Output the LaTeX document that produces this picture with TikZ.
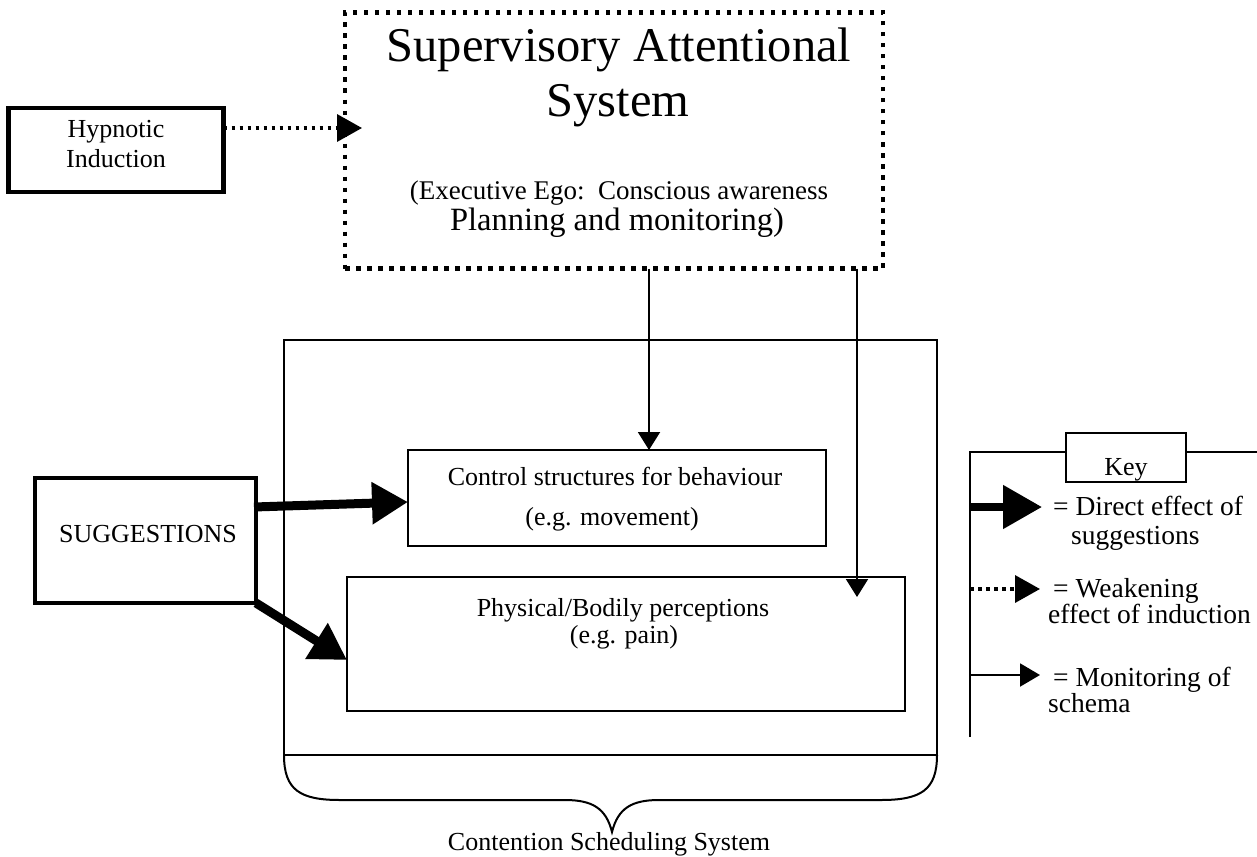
\documentclass[tikz,border=0pt]{standalone}
\usepackage{fontspec}
\setmainfont{Liberation Serif}
\usetikzlibrary{arrows.meta}
\begin{document}
\begin{tikzpicture}[x=1pt,y=-1pt,
  thinbox/.style={draw, line width=2pt, inner sep=0pt, outer sep=0pt},
  thickbox/.style={draw, line width=4.5pt, inner sep=0pt, outer sep=0pt},
  dotbox/.style={draw, line width=4.5pt, dash pattern=on 4.5pt off 6.5pt, inner sep=0pt, outer sep=0pt},
  txt/.style={font=\fontsize{26}{30}\selectfont, inner sep=0pt, anchor=base},
  keytxt/.style={font=\fontsize{27.5}{31}\selectfont, inner sep=0pt, anchor=base west},
  monitor/.style={line width=2pt, -{Triangle[length=18pt,width=22pt]}},
  direct/.style={line width=9pt, -{Triangle[length=36pt,width=40pt]}},
  weaken/.style={line width=3.5pt, dash pattern=on 3.5pt off 4.5pt, -{Triangle[length=25pt,width=27pt]}},
]
\clip (0,0) rectangle (1257,856);
\fill[white] (0,0) rectangle (1257,856);

% boxes
\node[thickbox, minimum width=215pt, minimum height=84pt] (hyp) at (116,150) {};
\node[dotbox, minimum width=538pt, minimum height=256pt] (sas) at (614,140.5) {};
\node[thinbox, minimum width=653pt, minimum height=415pt] (cont) at (610.5,547.5) {};
\node[thinbox, minimum width=418pt, minimum height=96pt] (ctrl) at (617,498) {};
\node[thinbox, minimum width=558pt, minimum height=134pt] (phys) at (626,644) {};
\node[thickbox, minimum width=221pt, minimum height=125pt] (sugg) at (145.5,540.5) {};
\node[thinbox, minimum width=120pt, minimum height=49pt] (keybox) at (1126,457.5) {};

% texts
\node[txt] (hyp1) at (116,137) {Hypnotic};
\node[txt] (hyp2) at (116,167) {Induction};
\node[txt, font=\fontsize{48.5}{52}\selectfont] (sas1) at (619,62) {Supervisory Attentional};
\node[txt, font=\fontsize{48.5}{52}\selectfont] (sas2) at (618,117) {System};
\node[txt, font=\fontsize{27}{31}\selectfont] (sas3) at (619,199) {(Executive Ego:\ \ Conscious awareness};
\node[txt, font=\fontsize{32.5}{36}\selectfont] (sas4) at (617,230) {Planning and monitoring)};
\node[txt] (ctrl1) at (615,485) {Control structures for behaviour};
\node[txt] (ctrl2) at (612,525) {(e.g. movement)};
\node[txt] (phys1) at (623,616) {Physical/Bodily perceptions};
\node[txt] (phys2) at (624,643) {(e.g. pain)};
\node[txt] (sugg1) at (148,542) {SUGGESTIONS};
\node[txt] (contlbl) at (609,850) {Contention Scheduling System};
\node[txt] (key1) at (1126,475) {Key};

% brace under the contention scheduling box
\draw[line width=2pt] (cont.south west)
  .. controls (284,790) and (300,800) .. (340,800) -- (565,800)
  .. controls (592,800) and (606,808) .. (612,832)
  .. controls (618,808) and (632,800) .. (659,800) -- (881,800)
  .. controls (921,800) and (937,790) .. (cont.south east);

% connectors
\coordinate (sasin) at (362,128);
\coordinate (m1) at (649,0);
\coordinate (m2tip) at (857,597);
\draw[weaken] (hyp.east |- sasin) -- (sasin);
\draw[monitor] (sas.south -| m1) -- (ctrl.north -| m1);
\draw[monitor] (sas.south -| m2tip) -- (m2tip);
\coordinate (d1s) at (254,507);
\draw[direct] (d1s) -- ([yshift=-4pt]ctrl.west);
\draw[direct] (sugg.south east) -- ([yshift=-16pt]phys.west);

% key
\coordinate (kt) at (970,452);
\coordinate (kb) at (970,737);
\draw[line width=2pt] (kb) -- (kt) -- (keybox.west |- kt);
\draw[line width=2pt] (keybox.east |- kt) -- (1257,452);
\coordinate (k1) at (970,507);
\coordinate (k1e) at (1042,507);
\coordinate (k2) at (970,589);
\coordinate (k2e) at (1040,589);
\coordinate (k3) at (970,675);
\coordinate (k3e) at (1040,675);
\draw[direct, line width=8pt, -{Triangle[length=39pt,width=42pt]}] (k1) -- (k1e);
\draw[weaken] (k2) -- (k2e);
\draw[monitor, -{Triangle[length=20pt,width=23pt]}] (k3) -- (k3e);
\node[keytxt] (kl1) at (1053,515) {= Direct effect of};
\node[keytxt] (kl2) at (1071,544) {suggestions};
\node[keytxt] (kl3) at (1053,597) {= Weakening};
\node[keytxt] (kl4) at (1048,623) {effect of induction};
\node[keytxt] (kl5) at (1053,686) {= Monitoring of};
\node[keytxt] (kl6) at (1048,712) {schema};
\end{tikzpicture}
\end{document}
